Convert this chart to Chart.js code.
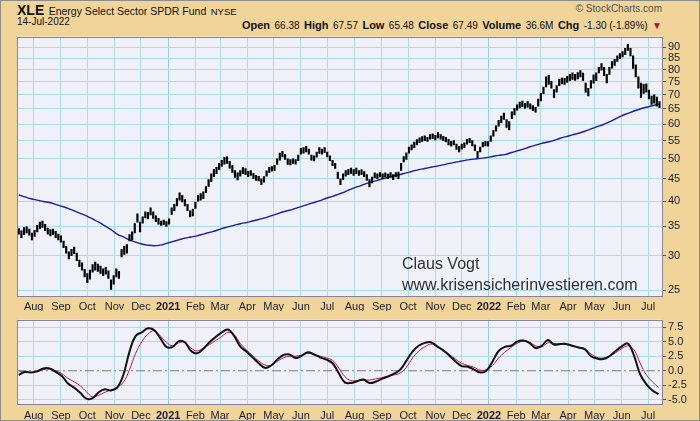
<!DOCTYPE html>
<html><head><meta charset="utf-8">
<script src="https://cdn.jsdelivr.net/npm/chart.js@4.4.1/dist/chart.umd.min.js"></script>
<style>
html,body{margin:0;padding:0;}
body{width:700px;height:421px;background:#f0d49a;position:relative;overflow:hidden;font-family:"Liberation Sans",Arial,sans-serif;color:#111;}
#frame{position:absolute;left:0;top:0;width:698px;height:419px;border:1px solid #8c8c8c;pointer-events:none;z-index:5;}
.t{position:absolute;white-space:nowrap;line-height:1;}
canvas{position:absolute;left:0;}
.b{font-weight:bold;font-size:11px;}
.v{font-size:10px;}
.note{position:absolute;left:402px;font-size:16px;color:#303030;white-space:nowrap;line-height:1;z-index:4;}
</style></head><body>
<div id="frame"></div>
<div class="t" style="left:17px;top:2px;"><b style="font-size:14px">XLE</b> <span style="font-size:10.5px">Energy Select Sector SPDR Fund</span> <span style="font-size:9.5px">NYSE</span></div>
<div class="t" style="right:38px;top:4px;font-size:10px;color:#555;">© StockCharts.com</div>
<div class="t" style="left:17px;top:17px;font-size:10px;">14-Jul-2022</div>
<div class="t" style="right:38px;top:16px;"><span class="b">Open</span> <span class="v">66.38</span> <span class="b">High</span> <span class="v">67.57</span> <span class="b">Low</span> <span class="v">65.48</span> <span class="b">Close</span> <span class="v">67.49</span> <span class="b">Volume</span> <span class="v">36.6M</span> <span class="b">Chg</span> <span class="v">-1.30 (-1.89%)</span> <span style="color:#b0103a;font-size:10px;">▼</span></div>
<canvas id="c1" width="700" height="283" style="top:28px;width:700px;height:283px;"></canvas>
<canvas id="c2" width="700" height="110" style="top:311px;width:700px;height:110px;"></canvas>
<div class="note" style="top:256px;">Claus Vogt</div>
<div class="note" style="top:277px;">www.krisensicherinvestieren.com</div>
<script>
// ---- data ----
// price bars every 3 calendar days starting 2020-07-15
const priceLow = [
33.6,33.0,33.5,33.8,33.4,32.6,33.2,34.0,34.6,34.8,
34.2,33.6,33.3,33.5,33.0,32.6,32.2,31.3,30.4,29.5,
30.0,30.3,29.2,28.3,27.8,26.8,26.0,26.5,27.5,27.8,
27.6,27.3,27.0,27.2,26.6,25.1,25.8,26.8,26.6,29.8,
30.2,30.4,32.4,32.6,33.8,35.8,34.0,35.6,36.6,36.4,
37.2,36.5,35.9,35.4,35.2,35.3,35.0,35.4,37.3,38.0,
39.0,40.2,39.8,39.0,38.0,36.8,37.0,38.5,40.0,40.2,
40.5,41.8,43.2,44.3,45.5,46.2,47.2,48.0,48.6,48.8,
47.6,46.5,45.3,44.7,45.6,46.2,46.0,45.5,45.8,45.0,
44.6,44.5,43.6,44.2,45.6,46.5,46.8,47.0,48.5,49.6,
50.5,49.8,48.5,48.4,48.8,48.6,49.5,51.2,51.5,51.8,
51.2,49.6,49.4,50.4,51.4,51.2,51.6,50.5,49.5,48.2,
47.5,45.0,43.6,44.8,45.6,46.0,46.3,45.8,46.2,45.8,
46.0,45.5,44.6,43.1,44.0,45.2,45.0,45.4,45.0,45.4,
45.0,45.3,44.8,45.4,45.0,47.0,49.2,49.8,51.5,52.4,
53.0,53.8,54.4,54.8,55.0,54.8,55.4,55.6,55.2,55.8,
55.4,55.0,54.6,53.8,53.4,53.8,52.5,51.8,52.6,53.0,
54.0,54.4,53.5,52.2,50.3,51.8,53.2,53.5,53.4,54.8,
56.3,57.8,59.4,60.5,61.5,59.0,58.2,61.8,63.0,64.6,
65.4,65.8,65.2,65.6,65.0,64.4,63.9,66.0,67.8,70.5,
73.0,74.0,72.5,69.0,71.0,73.5,74.2,74.0,74.8,75.5,
76.0,75.6,76.2,77.0,75.5,71.0,69.6,72.5,74.5,75.5,
78.6,79.8,77.5,74.6,78.0,80.6,81.8,83.5,84.7,85.5,
86.5,88.5,86.0,80.5,77.0,72.5,69.0,70.6,71.0,68.5,
66.6,67.0,66.0,65.48
];
const priceHigh = [
34.6,34.2,34.8,34.9,34.5,33.8,34.3,35.2,35.8,36.0,
35.4,34.7,34.4,34.5,34.1,33.6,33.3,32.4,31.5,30.6,
31.0,31.4,30.4,29.3,28.9,27.9,27.3,27.8,28.6,29.0,
28.7,28.4,28.0,28.2,27.7,26.4,27.0,28.0,27.6,31.0,
31.5,31.8,33.5,34.0,35.5,37.4,35.8,36.8,37.8,37.7,
38.6,37.8,37.0,36.5,36.0,36.2,35.9,36.4,38.6,39.3,
40.6,41.8,41.2,40.3,39.3,38.0,38.3,39.8,41.2,41.6,
42.0,43.2,44.8,46.2,47.2,47.8,48.8,49.6,50.4,50.5,
49.3,48.2,47.0,46.4,47.0,47.7,47.5,46.8,47.0,46.3,
45.8,45.6,45.0,45.5,46.9,47.8,48.0,48.3,50.0,51.5,
52.0,51.2,50.0,49.8,50.0,49.8,51.0,52.8,53.0,53.4,
52.6,51.0,50.8,51.8,53.0,52.6,53.0,51.8,50.8,49.6,
48.8,46.6,45.0,46.2,47.0,47.3,47.6,47.2,47.6,47.0,
47.2,46.7,46.0,44.8,45.4,46.4,46.2,46.5,46.2,46.4,
46.1,46.5,46.0,46.5,46.6,48.8,50.6,51.6,53.2,53.8,
54.6,55.3,55.8,56.2,56.4,56.0,56.8,57.0,56.6,57.4,
56.8,56.3,56.0,55.4,54.8,55.0,54.0,53.4,54.0,54.4,
55.4,55.7,55.0,53.8,52.0,53.2,54.5,54.8,54.7,56.4,
58.0,59.5,61.2,62.6,63.6,61.5,60.8,64.0,65.2,66.4,
67.4,67.8,67.0,67.6,66.8,66.2,65.6,68.5,70.6,73.0,
77.0,77.6,75.2,72.0,73.5,76.0,76.5,76.4,77.2,78.0,
78.6,78.0,78.8,79.6,78.5,74.5,72.5,75.5,77.8,78.6,
81.0,82.6,81.0,78.0,81.0,83.5,84.5,86.0,87.0,88.0,
89.5,91.4,89.5,86.0,82.0,77.0,74.5,74.0,74.2,71.8,
69.6,70.0,69.2,67.57
];
// weekly samples starting 2020-07-15
const maBlue = [
41.3,40.9,40.5,40.2,39.9,39.7,39.3,38.9,38.5,38.0,
37.5,37.0,36.4,35.8,35.1,34.4,33.6,33.1,32.6,32.2,
31.9,31.7,31.6,31.7,32.0,32.3,32.6,32.9,33.1,33.3,
33.6,33.9,34.2,34.6,34.9,35.2,35.5,35.7,36.0,36.3,
36.6,37.0,37.4,37.8,38.1,38.5,38.9,39.3,39.7,40.1,
40.6,41.0,41.5,42.0,42.6,43.1,43.6,44.1,44.5,44.9,
45.3,45.7,46.0,46.4,46.8,47.2,47.5,47.8,48.1,48.4,
48.8,49.1,49.4,49.7,49.9,50.1,50.3,50.6,50.9,51.1,
51.6,52.1,52.6,53.2,53.7,54.2,54.6,55.1,55.7,56.2,
56.7,57.2,57.8,58.5,59.2,59.9,60.7,61.7,62.7,63.5,
64.3,65.0,65.6,66.1,66.7
];
const oscBlack = [
-0.7,-0.2,-0.3,-0.1,0.4,0.4,-0.2,-0.9,-2.2,-2.9,
-3.8,-4.8,-4.7,-3.7,-3.2,-3.4,-2.9,-0.7,3.3,6.0,
6.6,7.3,7.0,5.6,4.1,4.1,5.1,4.9,3.4,3.0,
3.8,4.9,5.8,6.6,7.1,6.0,4.2,3.3,2.3,1.3,
0.5,0.9,1.9,2.7,2.8,2.2,2.6,3.2,2.8,2.3,
1.9,1.3,-0.4,-2.0,-2.1,-1.8,-1.5,-2.1,-1.9,-1.4,
-1.0,-0.5,0.2,1.7,3.3,4.3,4.8,4.9,4.2,3.5,
2.6,1.6,0.8,0.7,0.2,-0.3,0.0,1.6,3.4,4.1,
4.3,5.0,5.2,4.8,3.9,4.3,5.3,4.5,4.6,4.6,
4.3,4.0,3.7,2.5,2.1,2.0,2.5,3.4,4.2,4.7,
2.6,-0.6,-2.3,-3.4,-4.0
];
const oscRed = [
0.0,-0.3,-0.3,-0.1,0.2,0.3,0.0,-0.5,-1.3,-1.9,
-2.6,-3.6,-4.5,-4.2,-3.7,-3.3,-2.8,-2.0,0.2,3.0,
5.0,6.3,6.9,6.0,4.9,4.3,4.8,4.9,3.9,3.4,
3.9,4.5,5.2,5.9,6.6,6.2,4.7,3.6,2.6,1.7,
1.0,0.9,1.6,2.2,2.5,2.5,2.7,3.0,2.8,2.5,
2.2,1.8,0.5,-1.0,-1.7,-1.7,-1.6,-1.6,-1.4,-1.2,
-0.9,-0.7,-0.4,0.6,2.2,3.4,4.1,4.6,4.2,3.6,
2.8,2.0,1.3,0.9,0.6,0.1,0.2,0.9,2.2,3.2,
4.0,4.7,5.1,4.9,4.3,4.1,4.8,4.7,4.6,4.5,
4.2,4.0,3.8,2.9,2.3,2.2,2.5,3.1,3.8,4.3,
3.6,1.3,-0.7,-1.9,-2.9
];
const tickLabels = ['Aug','Sep','Oct','Nov','Dec','2021','Feb','Mar','Apr','May','Jun','Jul',
                    'Aug','Sep','Oct','Nov','Dec','2022','Feb','Mar','Apr','May','Jun','Jul'];
const priceTicks = [25,30,35,40,45,50,55,60,65,70,75,80,85,90];
const oscTicks = [-5,-2.5,0,2.5,5,7.5];

// ---- setup ----
const DAY = 86400000;
const d0 = Date.UTC(2020,6,13)/DAY;
const xMin = d0, xMax = d0 + 735;
const priceX = priceLow.map((_,i)=> d0 + 2 + 3*i);
const weekX = maBlue.map((_,k)=> d0 + 2 + 7*k);
const monthTicks = tickLabels.map((_,i)=> Date.UTC(2020, 7+i, 1)/DAY);

const FONT = '"Liberation Sans", Arial, sans-serif';
Chart.defaults.font.family = FONT;
Chart.defaults.animation = false;
const GRID = '#a9dcea';
const LABEL = '#1c1c2c';

const panelPlugin = {
  id:'panel',
  beforeDraw(chart){
    const {ctx, chartArea:a} = chart;
    ctx.save(); ctx.fillStyle='#eff0f8';
    ctx.fillRect(a.left,a.top,a.right-a.left,a.bottom-a.top); ctx.restore();
  },
  afterDraw(chart){
    const {ctx, chartArea:a} = chart;
    ctx.save(); ctx.strokeStyle='#8484a0'; ctx.lineWidth=1;
    ctx.strokeRect(Math.round(a.left)+0.5,Math.round(a.top)+0.5,Math.round(a.right-a.left)-1,Math.round(a.bottom-a.top)-1);
    ctx.restore();
  }
};

function xAxis(h, pad){
  return {
    type:'linear', min:xMin, max:xMax, offset:false,
    afterBuildTicks: s => { s.ticks = monthTicks.map(v=>({value:v})); },
    afterFit: s => { s.height = h; },
    grid:{ color: c => (c.tick && (tickLabels[c.index]||'').match(/^\d{4}$/)) ? '#8fd0e4' : GRID, drawTicks:false, offset:false },
    border:{ display:false },
    ticks:{ autoSkip:false, maxRotation:0, padding:pad, color:LABEL,
      font: c => ({ family:FONT, size:11, weight: /^\d{4}$/.test(tickLabels[c.index]||'') ? 'bold' : 'normal' }),
      callback:(v,i)=> tickLabels[i] }
  };
}

new Chart(document.getElementById('c1'), {
  type:'bar',
  data:{ datasets:[
    { type:'bar', label:'XLE', order:0,
      data: priceLow.map((lo,i)=>({x:priceX[i], y:[lo, priceHigh[i]]})),
      backgroundColor:'#000', borderWidth:0, barThickness:1.5, grouped:false },
    { type:'line', label:'MA', order:1,
      data: maBlue.map((v,k)=>({x:weekX[k], y:v})),
      borderColor:'#1c1ca0', borderWidth:1.4, pointRadius:0, tension:0.4, fill:false }
  ]},
  options:{
    responsive:false, maintainAspectRatio:false,
    layout:{ padding:{ left:17, right:0, top:0, bottom:0 } },
    plugins:{ legend:{display:false}, tooltip:{enabled:false} },
    scales:{
      x: xAxis(14, 3),
      y:{ type:'logarithmic', position:'right', min:24.12, max:95.2,
        afterBuildTicks: s => { s.ticks = priceTicks.map(v=>({value:v})); },
        afterFit: s => { s.width = 37; },
        grid:{ color:GRID, tickColor:'#555', tickLength:3 },
        border:{ display:false },
        ticks:{ autoSkip:false, padding:2, color:LABEL, font:{family:FONT,size:11}, callback:v=>String(v) } }
    }
  },
  plugins:[panelPlugin]
});

new Chart(document.getElementById('c2'), {
  type:'line',
  data:{ datasets:[
    { label:'zero', order:3, data:[{x:xMin,y:0},{x:xMax,y:0}],
      borderColor:'#7c7c7c', borderWidth:1, borderDash:[9,3,2,3], pointRadius:0 },
    { label:'signal', order:2, data: oscRed.map((v,k)=>({x:weekX[k], y:v})),
      borderColor:'#c0144a', borderWidth:1, pointRadius:0, tension:0.4 },
    { label:'osc', order:1, data: oscBlack.map((v,k)=>({x:weekX[k], y:v})),
      borderColor:'#111', borderWidth:2, pointRadius:0, tension:0.4 }
  ]},
  options:{
    responsive:false, maintainAspectRatio:false,
    layout:{ padding:{ left:17, right:0, top:0, bottom:0 } },
    plugins:{ legend:{display:false}, tooltip:{enabled:false} },
    scales:{
      x: xAxis(16, 4),
      y:{ type:'linear', position:'right', min:-5.89, max:8.8,
        afterBuildTicks: s => { s.ticks = oscTicks.map(v=>({value:v})); },
        afterFit: s => { s.width = 37; },
        grid:{ color: c => (c.tick && c.tick.value===0) ? 'rgba(0,0,0,0)' : GRID, tickColor:'#555', tickLength:3 },
        border:{ display:false },
        ticks:{ autoSkip:false, padding:2, color:LABEL, font:{family:FONT,size:11}, callback:v=>v.toFixed(1) } }
    }
  },
  plugins:[panelPlugin]
});
</script>
</body></html>
